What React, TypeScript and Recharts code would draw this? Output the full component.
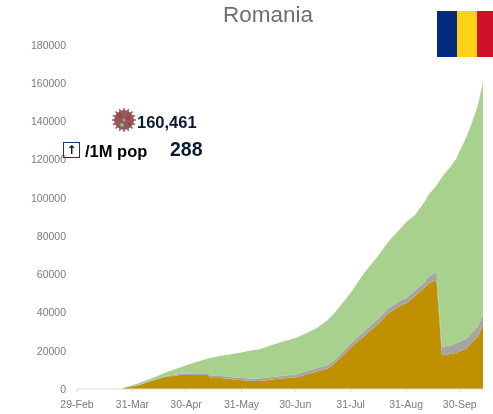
import { AreaChart, Area, XAxis, YAxis } from 'recharts'

// days since 29-Feb
const days = [0, 25, 27, 31, 35, 43, 50, 58, 61, 69, 73, 75, 80, 86, 88, 91, 98, 102, 112, 123, 129, 134, 140, 143, 149, 154, 160, 168, 174, 181, 184, 189, 195, 196, 201, 204, 209, 212, 218, 221, 224, 227]
const active = [0, 0, 800, 1500, 2100, 4700, 6400, 7300, 7300, 7300, 7300, 5800, 5700, 5400, 4700, 4700, 4200, 4200, 5200, 6100, 7800, 9000, 10700, 12500, 17800, 22500, 27200, 33800, 39500, 43700, 44800, 48700, 53500, 54900, 57000, 17800, 18300, 19000, 21300, 24500, 27400, 33500]
const deaths = [0, 0, 50, 50, 100, 200, 400, 700, 800, 900, 1000, 1000, 1050, 1100, 1100, 1150, 1200, 1250, 1400, 1600, 1700, 1800, 1800, 1800, 2000, 2200, 2500, 2600, 2600, 2700, 2700, 2800, 3000, 3400, 4400, 4300, 4500, 4900, 5200, 5200, 5200, 5200]
const recovered = [0, 0, 50, 350, 1100, 1100, 2000, 3400, 4300, 6600, 7500, 9500, 10550, 11700, 12800, 13150, 14900, 15350, 17400, 19200, 20000, 21000, 23500, 24400, 25700, 26800, 30300, 32800, 35000, 37700, 39900, 39500, 42400, 42700, 45100, 88700, 93700, 96600, 106000, 110200, 115400, 121761]

const xTicks = [0, 31, 61, 92, 122, 153, 184, 214]
const xLabels = ['29-Feb', '31-Mar', '30-Apr', '31-May', '30-Jun', '31-Jul', '31-Aug', '30-Sep']
const yTicks = [0, 20000, 40000, 60000, 80000, 100000, 120000, 140000, 160000, 180000]

const chartData = days.map((day, i) => ({
  day,
  active: active[i],
  deaths: deaths[i],
  recovered: recovered[i],
}))

const tickStyle = { fontSize: 10.5, fill: '#7a7a7a', fontFamily: 'Liberation Sans' }
const boldText = { position: 'absolute', fontFamily: 'Liberation Sans', fontWeight: 700, whiteSpace: 'nowrap', lineHeight: 1 } as const

function VirusIcon() {
  const spikes = Array.from({ length: 16 }, (_, i) => (i * 360) / 16)
  return (
    <svg width={30} height={30} style={{ position: 'absolute', left: 109, top: 105 }}>
      {spikes.map((angle) => (
        <line key={angle} x1={15} y1={3} x2={15} y2={7} stroke="#b5504f" strokeWidth={1.5} transform={`rotate(${angle} 15 15)`} />
      ))}
      <circle cx={15} cy={15} r={10} fill="#8f5a58" />
      <circle cx={11} cy={11} r={2} fill="#b03a38" />
      <circle cx={19} cy={13} r={2} fill="#b03a38" />
      <circle cx={13} cy={20} r={2} fill="#a9a09e" />
      <circle cx={20} cy={19} r={1.5} fill="#b03a38" />
      <circle cx={15} cy={15} r={1.5} fill="#a9a09e" />
    </svg>
  )
}

export default function App() {
  return (
    <div style={{ position: 'fixed', left: 0, top: 0, width: 493, height: 414, overflow: 'hidden', background: '#fff', filter: 'blur(0.5px)' }}>
      <AreaChart width={493} height={414} data={chartData} margin={{ top: 45, right: 10, left: 0, bottom: 0 }}>
        <XAxis
          dataKey="day"
          type="number"
          domain={[0, 227]}
          ticks={xTicks}
          tickFormatter={(v) => xLabels[xTicks.indexOf(v)]}
          height={25}
          interval={0}
          tick={tickStyle}
          stroke="#d9d9d9"
          tickSize={3}
          tickMargin={9}
        />
        <YAxis
          domain={[0, 180000]}
          ticks={yTicks}
          width={77}
          tick={tickStyle}
          axisLine={false}
          tickLine={false}
          tickSize={0}
          tickMargin={11}
          interval={0}
        />
        <Area type="linear" dataKey="active" stackId="a" fill="#bf9000" fillOpacity={1} stroke="none" isAnimationActive={false} />
        <Area type="linear" dataKey="deaths" stackId="a" fill="#a5a5a5" fillOpacity={1} stroke="none" isAnimationActive={false} />
        <Area type="linear" dataKey="recovered" stackId="a" fill="#a9d18e" fillOpacity={1} stroke="none" isAnimationActive={false} />
      </AreaChart>

      <div style={{ position: 'absolute', left: 168, width: 200, top: 4, textAlign: 'center', fontFamily: 'Liberation Sans', fontSize: 22.5, lineHeight: 1, color: '#6f6f6f' }}>
        Romania
      </div>

      {/* flag */}
      <div style={{ position: 'absolute', left: 437, top: 11, width: 20, height: 46, background: '#002b7f' }} />
      <div style={{ position: 'absolute', left: 457, top: 11, width: 20, height: 46, background: '#fcd116' }} />
      <div style={{ position: 'absolute', left: 477, top: 11, width: 16, height: 46, background: '#ce1126' }} />

      <VirusIcon />
      <div style={{ ...boldText, left: 137, top: 114, fontSize: 16.5, color: '#0b1a33' }}>160,461</div>

      <div style={{ position: 'absolute', left: 63, top: 142, width: 15, height: 14, border: '1.5px solid #1f3864', fontFamily: 'DejaVu Sans', fontWeight: 700, fontSize: 12, lineHeight: '14px', textAlign: 'center', color: '#111' }}>↑</div>
      <div style={{ ...boldText, left: 85, top: 143, fontSize: 16.5, color: '#000' }}>/1M pop</div>
      <div style={{ ...boldText, left: 170, top: 140, fontSize: 19.5, color: '#0b1a33' }}>288</div>
    </div>
  )
}
